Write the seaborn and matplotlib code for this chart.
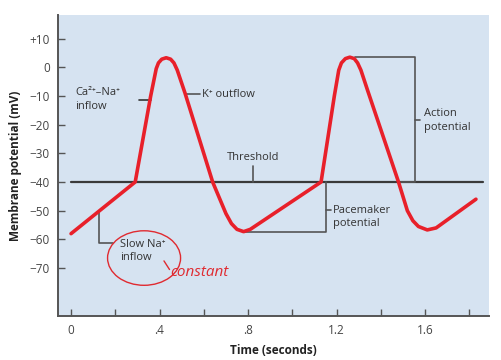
import matplotlib
matplotlib.use("Agg")
import matplotlib.pyplot as plt
from matplotlib.patches import Ellipse
import seaborn as sns
import numpy as np

# Pacemaker action potential trace (seconds, mV)
time_s = [0.00, 0.29, 0.36, 0.385, 0.395, 0.41, 0.43, 0.45, 0.465, 0.48,
          0.515, 0.64, 0.70, 0.725, 0.75, 0.78, 0.81, 1.13, 1.19, 1.21,
          1.222, 1.24, 1.26, 1.28, 1.295, 1.31, 1.34, 1.48, 1.52, 1.545,
          1.57, 1.61, 1.65, 1.83]
potential_mv = [-58, -40, -10, -0.5, 1.5, 2.8, 3.3, 2.8, 1.5, -1,
                -9, -40, -51, -54.5, -56.5, -57.3, -56.5, -40, -10, -1,
                1.5, 3.0, 3.5, 3.0, 1.5, -1, -8, -40, -50, -53.5,
                -55.5, -56.7, -56, -46]

threshold_mv = -40
threshold_span = [0.0, 1.86]

x_major = [0, 0.4, 0.8, 1.2, 1.6]
x_major_labels = ["0", ".4", ".8", "1.2", "1.6"]
x_minor = [0.2, 0.6, 1.0, 1.4, 1.8]
y_ticks = [10, 0, -10, -20, -30, -40, -50, -60, -70]
y_tick_labels = ["+10", "0", "\u221210", "\u221220", "\u221230",
                 "\u221240", "\u221250", "\u221260", "\u221270"]

sns.set_theme(style="ticks")
plt.rcParams["font.family"] = ["Open Sans", "DejaVu Sans"]

fig = plt.figure(figsize=(5.01, 3.6), dpi=100)
ax = fig.add_axes([58 / 501, 44 / 360, 431 / 501, 301 / 360])
ax.set_facecolor("#d6e3f1")

# threshold line
sns.lineplot(x=threshold_span, y=[threshold_mv] * 2, ax=ax, color="#3a3a3a",
             linewidth=1.6, zorder=2)

# the membrane potential trace
sns.lineplot(x=time_s, y=potential_mv, ax=ax, sort=False, estimator=None,
             color="#e8202a", linewidth=2.6, zorder=4,
             solid_joinstyle="round", solid_capstyle="round")

ax.set_xlim(-0.059, 1.889)
ax.set_ylim(-86.7, 18.2)

ax.set_xticks(x_major)
ax.set_xticklabels(x_major_labels)
ax.set_xticks(x_minor, minor=True)
ax.set_yticks(y_ticks)
ax.set_yticklabels(y_tick_labels)
ax.tick_params(axis="both", which="both", direction="in", length=5,
               width=1, color="#555555", labelcolor="#444444", labelsize=8.5)
ax.tick_params(axis="x", pad=6)
ax.tick_params(axis="y", pad=6)

sns.despine(ax=ax)
for side in ["left", "bottom"]:
    ax.spines[side].set_color("#555555")
    ax.spines[side].set_linewidth(1.4)

ax.set_xlabel("Time (seconds)", fontsize=8.5, fontweight="bold",
              color="#222222", labelpad=5)
ax.set_ylabel("Membrane potential (mV)", fontsize=8.5, fontweight="bold",
              color="#222222", labelpad=5)

# annotation brackets and labels
grey = "#555555"
txt = dict(fontsize=8, color="#333333")
peak = max(potential_mv[18:28])
low1 = min(potential_mv[11:18])

# Ca2+-Na+ inflow
ax.plot([0.305, 0.363], [-11.3, -11.3], color="#333333", lw=1.2, zorder=3)
ax.text(0.02, -11.3, "Ca\u00b2\u207a\u2013Na\u207a\ninflow", va="center",
        ha="left", linespacing=1.3, **txt)
# K+ outflow
ax.plot([0.52, 0.583], [-9.3, -9.3], color=grey, lw=1.2, zorder=3)
ax.text(0.59, -9.6, "K\u207a outflow", va="center", ha="left", **txt)
# Threshold
ax.plot([0.822, 0.822], [threshold_mv, -34.4], color=grey, lw=1.2, zorder=3)
ax.text(0.825, -31.5, "Threshold", va="center", ha="center", **txt)
# Action potential
ax.plot([1.285, 1.555, 1.555, 1.49], [peak, peak, threshold_mv, threshold_mv],
        color=grey, lw=1.2, zorder=3)
ax.plot([1.555, 1.578], [-18.4, -18.4], color=grey, lw=1.2, zorder=3)
ax.text(1.595, -18.6, "Action\npotential", va="center", ha="left",
        linespacing=1.3, **txt)
# Pacemaker potential
ax.plot([0.787, 1.152, 1.152], [low1, low1, threshold_mv], color=grey,
        lw=1.2, zorder=3)
ax.plot([1.152, 1.175], [-49.8, -49.8], color=grey, lw=1.2, zorder=3)
ax.text(1.185, -52.2, "Pacemaker\npotential", va="center", ha="left",
        linespacing=1.3, **txt)
# Slow Na+ inflow
ax.plot([0.127, 0.127, 0.19], [-50.5, -61.3, -61.3], color=grey, lw=1.2,
        zorder=3)
ax.text(0.222, -64, "Slow Na\u207a\ninflow", va="center", ha="left",
        linespacing=1.3, **txt)

# handwritten note
ax.add_patch(Ellipse((0.33, -66.5), 0.33, 19, angle=0, fill=False,
                     edgecolor="#e02a30", lw=1.0, zorder=5))
ax.plot([0.42, 0.445], [-67.5, -70.5], color="#e02a30", lw=1.0, zorder=5)
ax.text(0.45, -71.5, "constant", color="#e02a30", fontsize=11,
        fontstyle="italic", va="center", ha="left", zorder=5)

plt.savefig("out.png", dpi=100)
